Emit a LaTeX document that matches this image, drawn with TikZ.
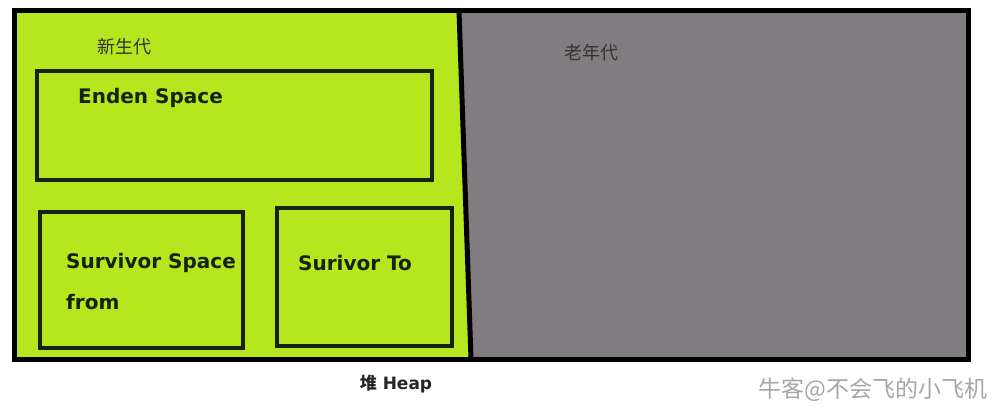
\documentclass[tikz,border=0pt]{standalone}
\usepackage{fontspec}
\setmainfont{DejaVu Sans}
\newfontfamily\cjkfont{Noto Sans CJK SC}
\definecolor{younggreen}{RGB}{181,230,30}
\definecolor{oldgray}{RGB}{128,124,127}
\definecolor{inkdark}{RGB}{22,34,12}
\begin{document}
\begin{tikzpicture}[
  x=1pt,
  y=-1pt,
  heapframe/.style={draw=black, line width=5pt, inner sep=0pt},
  spacebox/.style={draw=inkdark, line width=4.5pt, fill=younggreen, inner sep=0pt},
  spacelabel/.style={anchor=west, inner sep=0pt, text=inkdark,
    font=\fontsize{20}{24}\selectfont\bfseries},
  genlabel/.style={anchor=west, inner sep=0pt, text=black!80,
    font=\fontsize{18}{21}\selectfont\cjkfont},
  divider/.style={draw=black, line width=5pt}
]
  \useasboundingbox (0,0) rectangle (1001,412);

  % generations
  \coordinate (divtop) at (459,11);
  \coordinate (divbot) at (471,359);
  \fill[younggreen] (14,11) -- (divtop) -- (divbot) -- (14,359) -- cycle;
  \fill[oldgray] (divtop) -- (968,11) -- (968,359) -- (divbot) -- cycle;
  \node[heapframe, minimum width=954, minimum height=348] (heap) at (491,185) {};
  \draw[divider] (divtop) -- (divbot);

  % spaces of the young generation
  \node[spacebox, minimum width=395, minimum height=109] (eden) at (234.5,125.5) {};
  \node[spacebox, minimum width=203, minimum height=136] (from) at (141.5,280) {};
  \node[spacebox, minimum width=175, minimum height=138] (to) at (364.5,277) {};

  \node[genlabel] (younglbl) at (97,47) {新生代};
  \node[genlabel] (oldlbl) at (564,53) {老年代};
  \node[spacelabel] (edenlbl) at (78,98) {Enden Space};
  \node[spacelabel] (fromlbl) at (66,263) {Survivor Space};
  \node[spacelabel] (fromlbl2) at (66,302) {from};
  \node[spacelabel] (tolbl) at (298,263) {Surivor To};

  \node[font=\fontsize{17}{20}\selectfont\bfseries, text=black!85] (heaplbl) at (396,384)
    {{\cjkfont\bfseries 堆} Heap};
  \node[anchor=east, font=\fontsize{23}{26}\selectfont\cjkfont, text=black!35] (mark)
    at (991,390) {牛客@不会飞的小飞机};
\end{tikzpicture}
\end{document}
